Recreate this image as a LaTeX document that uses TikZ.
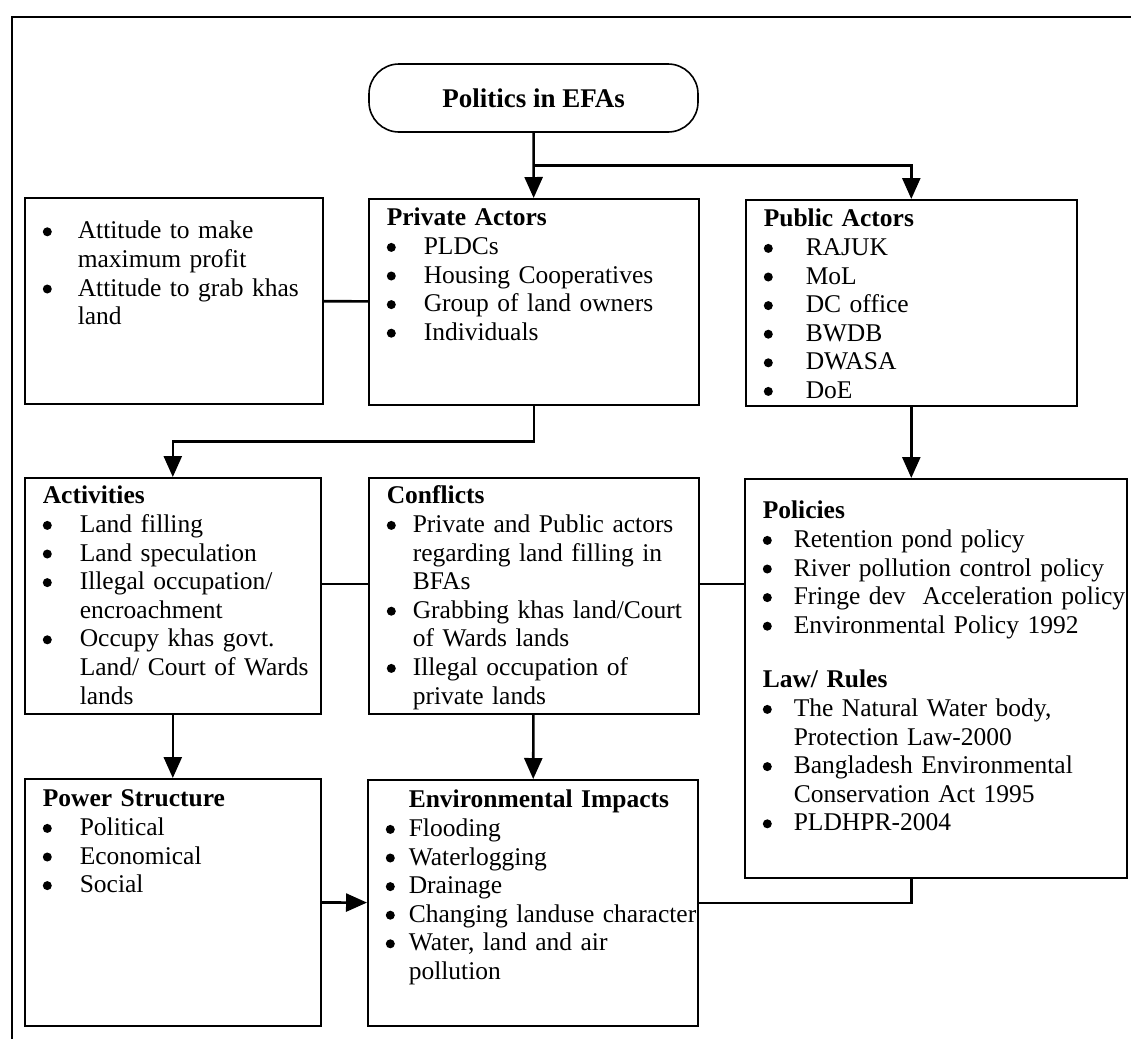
\documentclass[tikz,border=0pt]{standalone}
\usepackage{fontspec}
\setmainfont{Liberation Serif}
\usetikzlibrary{%
    arrows.meta,
    calc,
    positioning
}
\newlength{\bulletgap}
\newcommand{\dotmark}{\tikz[baseline=-7pt]\fill (0,0) circle (4.5pt);}
\newcommand{\bitem}[1]{\leavevmode\hangindent=\bulletgap\hangafter=1\makebox[\bulletgap][l]{\dotmark}#1\par}
\tikzset{headarrow/.style = {-{Triangle[length=21pt,width=18pt]}}}
\tikzset{link/.style = {line width=2.6pt}}
\tikzset{panel/.style = {draw, line width=1.6pt, anchor=north west, inner sep=0pt,
    align=left, font=\fontsize{25.5}{28.6}\selectfont,
    execute at begin node={\setlength{\leftskip}{18pt}\setlength{\bulletgap}{#1}}}}

\begin{document}
\begin{tikzpicture}[x=1pt, y=-1pt]
    \useasboundingbox (0,0) rectangle (1131,1039);
    \draw[line width=2.8pt] (1131,17) -- (12,17) -- (12,1039);

    \node[draw, line width=1.6pt, rounded corners=30pt, minimum width=329pt, minimum height=68pt,
        font=\fontsize{27}{30}\selectfont\bfseries] (politics) at (533.5,98) {Politics in EFAs};

    \node[panel=35pt, text width=298pt, text height=41pt, text depth=165pt] (attitude) at (24,197)
        {\bitem{Attitude to make\newline maximum profit}
         \bitem{Attitude to grab khas\newline land}};
    \node[panel=37pt, text width=330pt, text height=27pt, text depth=179pt] (private) at (368,198)
        {\textbf{Private Actors}\par
         \bitem{PLDCs}
         \bitem{Housing Cooperatives}
         \bitem{Group of land owners}
         \bitem{Individuals}};
    \node[panel=42pt, text width=331pt, text height=27pt, text depth=179pt] (public) at (745,199)
        {\textbf{Public Actors}\par
         \bitem{RAJUK}
         \bitem{MoL}
         \bitem{DC office}
         \bitem{BWDB}
         \bitem{DWASA}
         \bitem{DoE}};

    \node[panel=37pt, text width=296pt, text height=26pt, text depth=210pt] (activities) at (24,477)
        {\textbf{Activities}\par
         \bitem{Land filling}
         \bitem{Land speculation}
         \bitem{Illegal occupation/\newline encroachment}
         \bitem{Occupy khas govt.\newline Land/ Court of Wards\newline lands}};
    \node[panel=26pt, text width=330pt, text height=26pt, text depth=210pt] (conflicts) at (368,477)
        {\textbf{Conflicts}\par
         \bitem{Private and Public actors\newline regarding land filling in\newline BFAs}
         \bitem{Grabbing khas land/Court\newline of Wards lands}
         \bitem{Illegal occupation of\newline private lands}};
    \node[panel=31pt, text width=382pt, text height=40pt, text depth=359pt] (policies) at (744,478)
        {\textbf{Policies}\par
         \bitem{Retention pond policy}
         \bitem{River pollution control policy}
         \bitem{Fringe dev\ \ Acceleration policy}
         \bitem{Environmental Policy 1992}
         \vspace{26pt}
         \textbf{Law/ Rules}\par
         \bitem{The Natural Water body,\newline Protection Law-2000}
         \bitem{Bangladesh Environmental\newline Conservation Act 1995}
         \bitem{PLDHPR-2004}};

    \node[panel=37pt, text width=296pt, text height=28pt, text depth=219pt] (power) at (24,778)
        {\textbf{Power Structure}\par
         \bitem{Political}
         \bitem{Economical}
         \bitem{Social}};
    \node[panel=23pt, text width=330pt, text height=28pt, text depth=218pt] (env) at (367,779)
        {\hspace*{23pt}\textbf{Environmental Impacts}\par
         \bitem{Flooding}
         \bitem{Waterlogging}
         \bitem{Drainage}
         \bitem{Changing landuse character}
         \bitem{Water, land and air\newline pollution}};

    \coordinate (fork) at ($(politics.south)!.5!(private.north)$);
    \coordinate (elbow) at ($(private.south)!.5!(activities.north)$);

    \foreach \Source/\Target in {%
        politics/private,
        activities/power,
        conflicts/env,
        power/env}
            \draw[link,headarrow] (\Source) -- (\Target);
    \draw[link,headarrow] (fork) -| (public.north);
    \draw[link,headarrow] (private.south) |- (elbow) -| (activities.north);
    \draw[link,headarrow] (public.south) -- (public.south |- policies.north);
    \draw[link] (attitude) -- (private);
    \draw[link] ([yshift=12pt]activities.east) -- ([yshift=12pt]conflicts.west);
    \draw[link] ([yshift=12pt]conflicts.east) -- ([yshift=12pt]conflicts.east -| policies.west);
    \draw[link] (policies.south -| public.south) |- (env.east);
\end{tikzpicture}
\end{document}
